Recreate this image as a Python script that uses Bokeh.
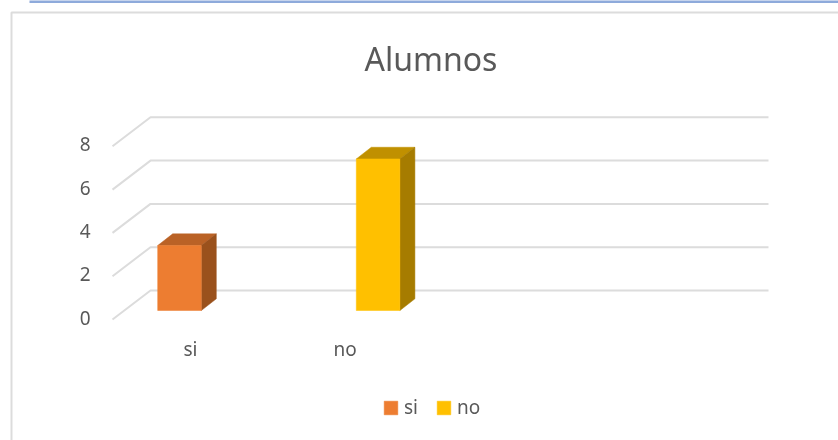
from bokeh.plotting import figure
from bokeh.models import BoxAnnotation, Legend, LegendItem, Range1d
from bokeh.core.properties import value
from bokeh.embed import file_html
from bokeh.resources import INLINE

title = "Alumnos"
categories = ["si", "no"]
values = [3, 7]
ticks = [0, 2, 4, 6, 8]
front = ["#ED7D31", "#FFC000"]
top_face = ["#BA6226", "#C09000"]
side_face = ["#9A511C", "#A67C00"]

W, H = 838, 440
X0, XS = 179.0, 198.6   # pixel of category 0, pixels per category
Y0, YS = 310.0, 21.65   # pixel of value 0, pixels per unit
FONT = value("Noto Sans")
GREY = "#595959"

p = figure(width=W, height=H, output_backend="svg", toolbar_location=None,
           x_range=Range1d(-X0 / XS, (W - X0) / XS),
           y_range=Range1d((Y0 - H) / YS, Y0 / YS),
           min_border=0, outline_line_color=None, background_fill_color="white",
           x_axis_location=None, y_axis_location=None)
p.grid.visible = False
p.styles = {"position": "fixed", "left": "0px", "top": "0px"}

# page furniture (screen y of these boxes counts from the canvas bottom)
p.add_layout(BoxAnnotation(left=29, right=W, top=H + 2, bottom=H - 2.5, left_units="screen", right_units="screen",
                           top_units="screen", bottom_units="screen", fill_color="#8EAADB", fill_alpha=1,
                           line_color=None, level="underlay"))
p.add_layout(BoxAnnotation(left=11, right=W + 5, top=H - 12, bottom=-5, left_units="screen", right_units="screen",
                           top_units="screen", bottom_units="screen", fill_alpha=0,
                           line_color="#DCDCDC", line_alpha=1, line_width=2, level="underlay"))

dx = lambda px: px / XS
dy = lambda px: px / YS

# gridlines: front edge -> back wall -> right end
gx = [dx(112 - X0), dx(150 - X0), dx(768 - X0)]
for t in ticks:
    p.line(gx, [t - dy(9), t + dy(20), t + dy(20)], line_color="#DCDCDC", line_width=2)

# bars
half = dx(21.8)
ddx, ddy = dx(15), dy(11.7)
renderers = []
for i, (c, v) in enumerate(zip(categories, values)):
    l, r = i - half, i + half
    p.patch([l, r, r + ddx, l + ddx], [v, v, v + ddy, v + ddy], fill_color=top_face[i], line_color=top_face[i], line_width=0.5)
    p.patch([r, r + ddx, r + ddx, r], [0, ddy, v + ddy, v], fill_color=side_face[i], line_color=side_face[i], line_width=0.5)
    renderers.append(p.vbar(x=[i], top=[v], bottom=[0], width=2 * half, fill_color=front[i], line_color=front[i], line_width=0.5))

# tick labels
p.text([dx(90 - X0)] * len(ticks), ticks, text=[str(t) for t in ticks], text_font=FONT, text_font_size="19px",
       text_color=GREY, text_align="right", text_baseline="middle", y_offset=7)
xoff = [11, -33]
for i, c in enumerate(categories):
    p.text([i], [0], text=[c], text_font=FONT, text_font_size="19px", text_color=GREY,
           text_align="center", text_baseline="middle", x_offset=xoff[i], y_offset=38)

# title
p.text([dx(430.5 - X0)], [(Y0 - 58) / YS], text=[title], text_font=FONT, text_font_size="32px",
       text_color=GREY, text_align="center", text_baseline="middle")

legend = Legend(items=[LegendItem(label=c, renderers=[r]) for c, r in zip(categories, renderers)],
                orientation="horizontal", location=(382, 20), margin=0, padding=0, spacing=11,
                glyph_width=17, glyph_height=17, label_standoff=5, label_text_font="Noto Sans",
                label_text_font_size="19px", label_text_color=GREY, border_line_color=None,
                background_fill_alpha=0, label_height=17)
p.add_layout(legend, "center")

open("out.html", "w").write(file_html(p, INLINE))
